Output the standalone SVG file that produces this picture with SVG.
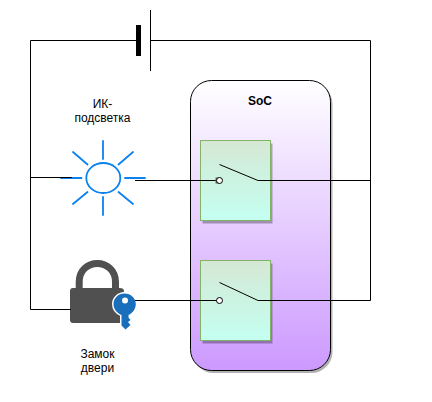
<svg xmlns="http://www.w3.org/2000/svg" width="432" height="402" viewBox="0 0 432 402">
<style>
.w{fill:none;stroke:#000;stroke-width:1}
.sh{fill:#000;opacity:.3}
.sw{fill:url(#g2);stroke:#82b366;stroke-width:1}
.r{stroke:#0b82ee;stroke-width:1.800;fill:none;stroke-linecap:round}
.t{fill:#fff;stroke:#000;stroke-width:1}
text{font-family:"Liberation Sans",Arial,sans-serif;font-size:12px;fill:#000;text-anchor:middle}
</style>
<defs>
<linearGradient id="g1" x1="0" y1="0" x2="0" y2="1"><stop offset="0" stop-color="#ffffff"/><stop offset="1" stop-color="#cc99ff"/></linearGradient>
<linearGradient id="g2" x1="0" y1="0" x2="0" y2="1"><stop offset="0" stop-color="#d5e8d4"/><stop offset="1" stop-color="#c4fff1"/></linearGradient>
</defs>
<g id="soc">
<rect x="192.500" y="83" width="140" height="290" rx="21" fill="#000" opacity=".3"/>
<rect x="190.500" y="80.500" width="140" height="290" rx="21" fill="url(#g1)" stroke="#000"/>
<text x="260" y="105" style="font-weight:bold">SoC</text>
</g>
<g id="switch1">
<rect x="202.500" y="143.500" width="70" height="80" class="sh"/>
<rect x="200.500" y="140.500" width="70" height="80" class="sw"/>
</g>
<g id="switch2">
<rect x="202.500" y="263.500" width="70" height="80" class="sh"/>
<rect x="200.500" y="260.500" width="70" height="80" class="sw"/>
</g>
<g id="battery">
<rect x="136" y="25" width="5" height="31" fill="#000"/>
<path d="M150.500 10V71" class="w"/>
</g>
<g id="ir">
<ellipse cx="103.300" cy="178" rx="17" ry="15" fill="#fff" stroke="#0b82ee" stroke-width="1.800"/>
<path class="r" d="M103 141V159M103 197V215M61 178H81.500M125 178H145M73 152L87.500 164.500M133 152L118.500 164.500M73 204L87.500 192M133 204L118.500 192"/>
<text x="102.500" y="108">ИК-</text>
<text x="102.500" y="122">подсветка</text>
</g>
<g id="lock">
<path d="M79.200 291V282C79.200 270 88 263.500 97.300 263.500C106.500 263.500 115.500 270 115.500 282V291" fill="none" stroke="#505050" stroke-width="7"/>
<path d="M73 288H120Q123 288 124 290L120 323H73Q70 323 70 320V291Q70 288 73 288Z" fill="#505050"/>
<path d="M124.500 293.500C118 293.500 113.500 298.500 113.500 304C113.500 309 117 313 121.500 315V325.500L125.500 329.500L130.500 325L128 322L130.500 320L128.500 317.500L128.500 315C132.500 313 135.800 309 135.800 304C135.800 298.500 131 293.500 124.500 293.500Z" fill="#1a6fbd" stroke="#fff" stroke-width="3" paint-order="stroke"/>
<circle cx="125" cy="300.500" r="3" fill="#fff"/>
<text x="97.500" y="358">Замок</text>
<text x="97.500" y="372">двери</text>
</g>
<g id="connectors">
<path class="w" d="M136 40.500H30.500V309.500H71M30.500 177.500H72"/>
<path class="w" d="M150 40.500H370.500V300.500H258L219.500 282.500"/>
<path class="w" d="M370.500 180.500H258L219.500 164.500"/>
<path class="w" d="M135 180.500H217"/>
<path class="w" d="M135 300.500H217"/>
<rect x="215.500" y="177.500" width="4" height="6" fill="#5d6e5d"/>
<circle cx="219.500" cy="180.500" r="3" class="t"/>
<circle cx="219.500" cy="300.500" r="3" class="t"/>
</g>
</svg>
